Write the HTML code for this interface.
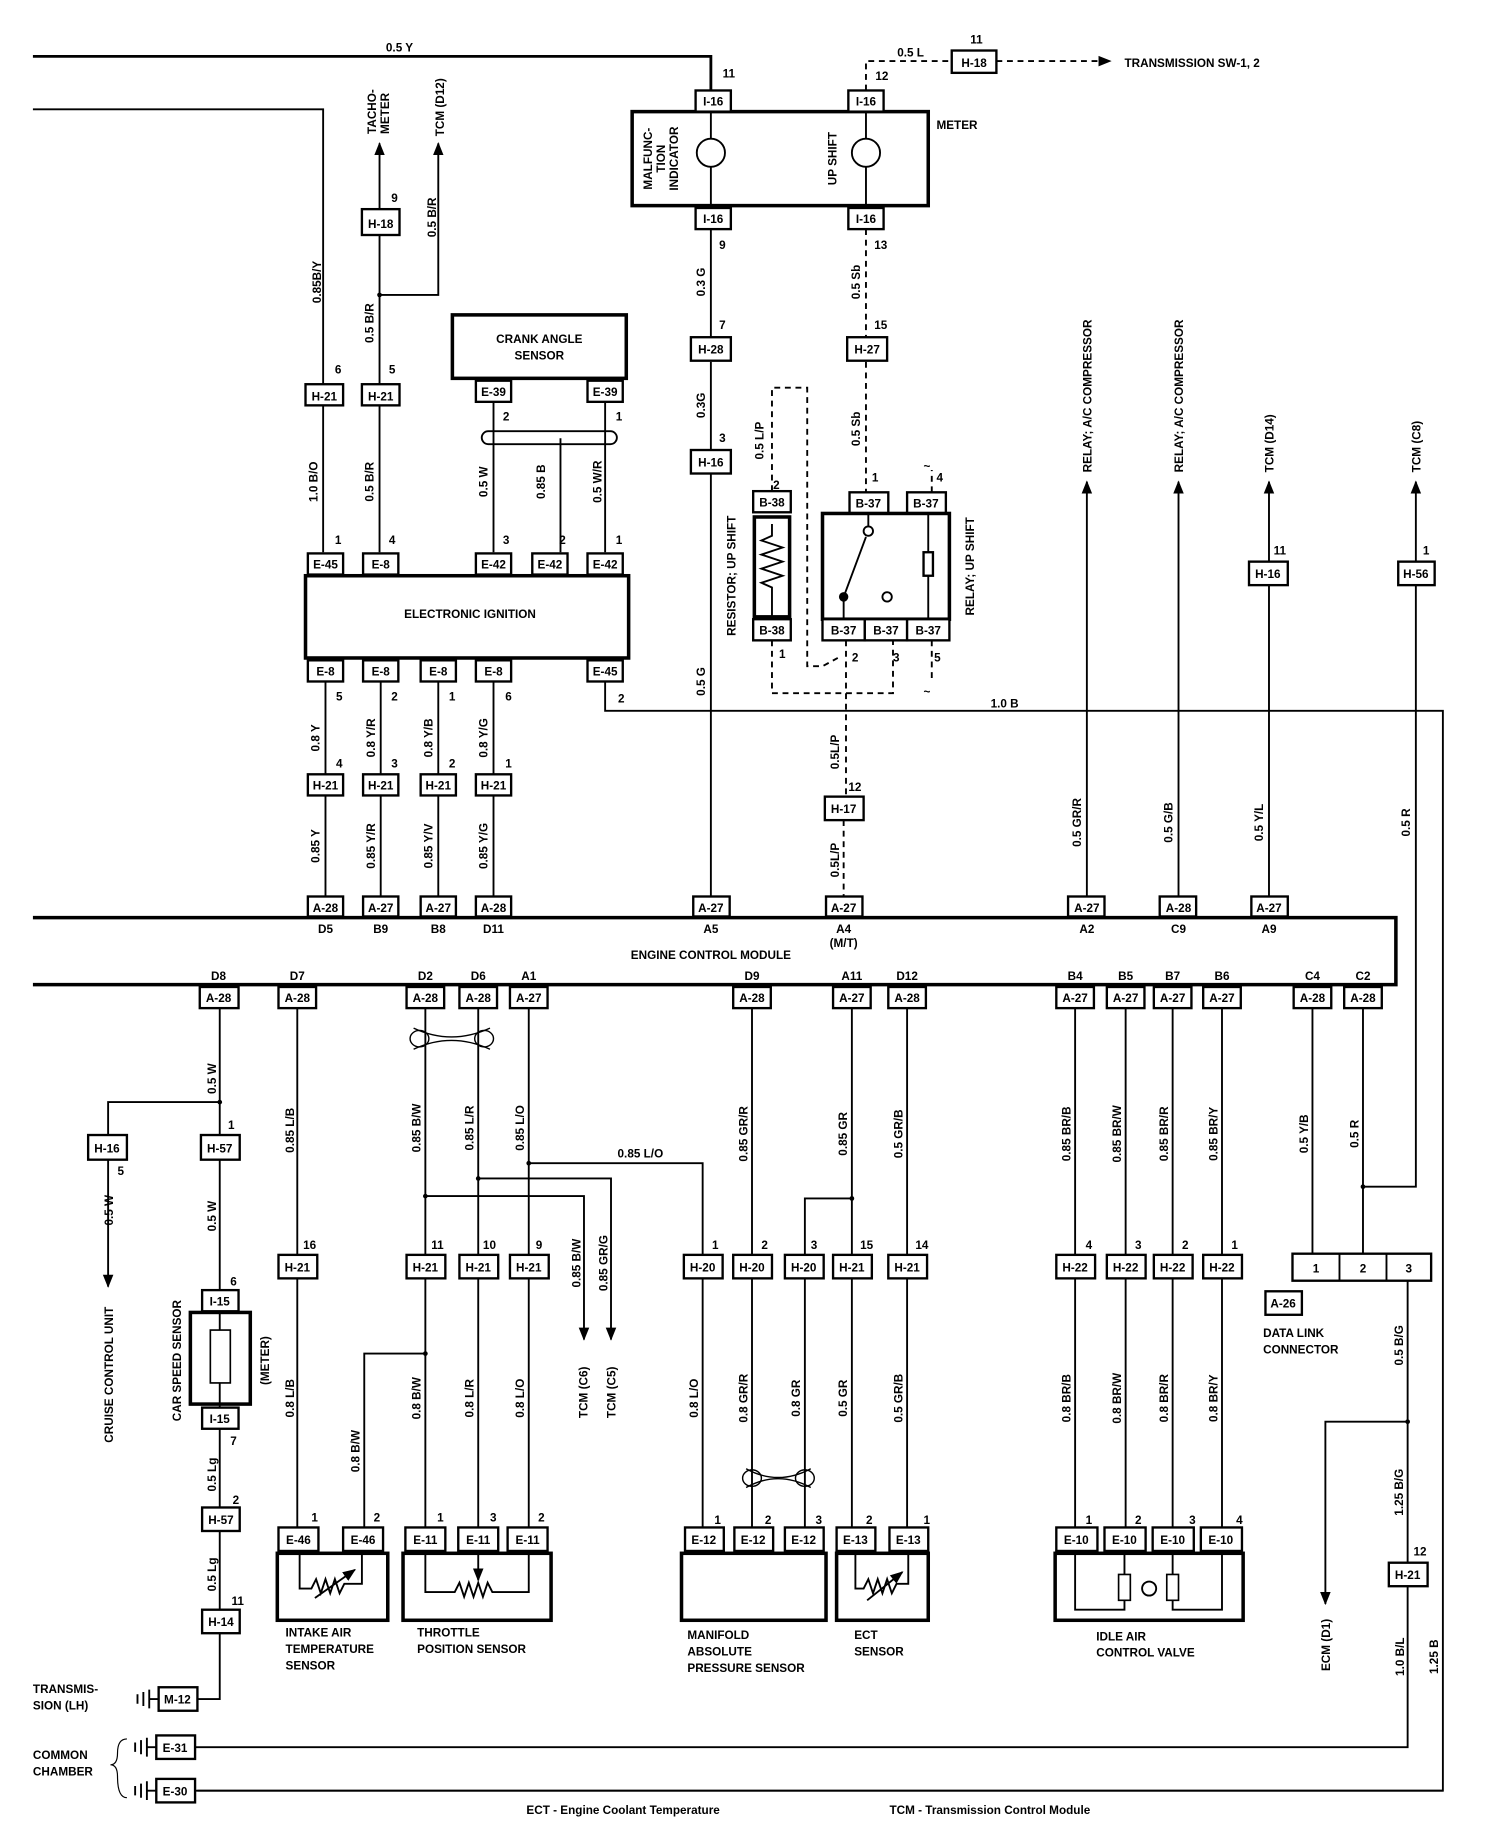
<!DOCTYPE html>
<html><head><meta charset="utf-8"><style>
html,body{margin:0;padding:0;background:#fff}
svg{display:block}
text{font-family:"Liberation Sans",sans-serif;font-weight:bold;font-size:10px;fill:#000}
.c{text-anchor:middle}
.e{text-anchor:end}
.w{stroke:#000;stroke-width:1.6;fill:none}
.t{stroke:#000;stroke-width:2.4;fill:none}
.d{stroke:#000;stroke-width:1.6;fill:none;stroke-dasharray:5,4}
.b{stroke:#000;stroke-width:2;fill:#fff}
.k{stroke:#000;stroke-width:3;fill:none}
</style></head><body>
<svg width="1504" height="1840" viewBox="0 0 1280 1566" xmlns="http://www.w3.org/2000/svg">
<defs><marker id="a" viewBox="0 0 10 10" refX="9" refY="5" markerWidth="7" markerHeight="7" orient="auto-start-reverse"><path d="M0,1 L10,5 L0,9 z" fill="#000"/></marker></defs>

<!-- top wires -->
<path class="t" d="M28,48 H605 V77"/><text x="340" y="44" class="c">0.5 Y</text>
<path class="w" d="M28,93 H275 V327"/>
<text transform="translate(273,240) rotate(-90)" class="c">0.85B/Y</text>
<text x="615" y="66">11</text>
<path class="d" d="M737,77 V52 H810"/><text x="775" y="48" class="c">0.5 L</text><text x="745" y="68">12</text>
<rect class="b" x="810" y="43" width="38" height="19"/><text x="829" y="57" class="c">H-18</text><text x="831" y="37" class="c">11</text>
<path class="d" d="M848,52 H945" marker-end="url(#a)"/><text x="957" y="57">TRANSMISSION SW-1, 2</text>

<!-- meter -->
<rect class="k" x="538" y="95" width="252" height="80"/>
<text x="797" y="110">METER</text>
<rect class="b" x="592" y="77" width="30" height="18"/><text x="607" y="90" class="c">I-16</text>
<rect class="b" x="722" y="77" width="30" height="18"/><text x="737" y="90" class="c">I-16</text>
<rect class="b" x="592" y="177" width="30" height="18"/><text x="607" y="190" class="c">I-16</text>
<rect class="b" x="722" y="177" width="30" height="18"/><text x="737" y="190" class="c">I-16</text>
<path class="w" d="M605,95 V118 M605,142 V177 M737,95 V118 M737,142 V177"/>
<circle cx="605" cy="130" r="12" class="w"/><circle cx="737" cy="130" r="12" class="w"/>
<text transform="translate(555,135) rotate(-90)" class="c">MALFUNC-</text>
<text transform="translate(566,135) rotate(-90)" class="c">TION</text>
<text transform="translate(577,135) rotate(-90)" class="c">INDICATOR</text>
<text transform="translate(712,135) rotate(-90)" class="c">UP SHIFT</text>

<!-- tacho -->
<path class="w" d="M323,327 V200 M323,178 V122" marker-end="url(#a)"/>
<path class="w" d="M323,251 H373 V122" marker-end="url(#a)"/>
<circle cx="323" cy="251" r="2"/>
<text transform="translate(320,114) rotate(-90)">TACHO-</text>
<text transform="translate(331,114) rotate(-90)">METER</text>
<text transform="translate(378,116) rotate(-90)">TCM (D12)</text>
<rect class="b" x="308" y="178" width="32" height="22"/><text x="324" y="194" class="c">H-18</text><text x="333" y="172">9</text>
<text transform="translate(371,185) rotate(-90)" class="c">0.5 B/R</text>
<text transform="translate(318,275) rotate(-90)" class="c">0.5 B/R</text>
<rect class="b" x="260" y="327" width="32" height="18"/><text x="276" y="341" class="c">H-21</text><text x="285" y="318">6</text>
<rect class="b" x="308" y="327" width="32" height="18"/><text x="324" y="341" class="c">H-21</text><text x="331" y="318">5</text>

<!-- crank angle -->
<rect class="k" x="385" y="268" width="148" height="54"/>
<text x="459" y="292" class="c">CRANK ANGLE</text><text x="459" y="306" class="c">SENSOR</text>
<rect class="b" x="405" y="324" width="30" height="18"/><text x="420" y="337" class="c">E-39</text>
<rect class="b" x="500" y="324" width="30" height="18"/><text x="515" y="337" class="c">E-39</text>
<text x="428" y="358">2</text><text x="524" y="358">1</text>
<rect x="410" y="367" width="115" height="11" rx="5.5" class="w"/>
<path class="w" d="M420,342 V470 M515,342 V470 M477,373 V470 M275,345 V470 M323,345 V470"/>
<text transform="translate(270,410) rotate(-90)" class="c">1.0 B/O</text>
<text transform="translate(318,410) rotate(-90)" class="c">0.5 B/R</text>
<text transform="translate(415,410) rotate(-90)" class="c">0.5 W</text>
<text transform="translate(464,410) rotate(-90)" class="c">0.85 B</text>
<text transform="translate(512,410) rotate(-90)" class="c">0.5 W/R</text>
<text x="285" y="463">1</text><text x="331" y="463">4</text><text x="428" y="463">3</text><text x="476" y="463">2</text><text x="524" y="463">1</text>

<!-- electronic ignition -->
<rect class="k" x="260" y="490" width="275" height="70"/>
<text x="400" y="526" class="c">ELECTRONIC IGNITION</text>
<g>
<rect class="b" x="262" y="471" width="30" height="18"/><text x="277" y="484" class="c">E-45</text>
<rect class="b" x="309" y="471" width="30" height="18"/><text x="324" y="484" class="c">E-8</text>
<rect class="b" x="405" y="471" width="30" height="18"/><text x="420" y="484" class="c">E-42</text>
<rect class="b" x="453" y="471" width="30" height="18"/><text x="468" y="484" class="c">E-42</text>
<rect class="b" x="500" y="471" width="30" height="18"/><text x="515" y="484" class="c">E-42</text>
<rect class="b" x="262" y="562" width="30" height="18"/><text x="277" y="575" class="c">E-8</text>
<rect class="b" x="309" y="562" width="30" height="18"/><text x="324" y="575" class="c">E-8</text>
<rect class="b" x="358" y="562" width="30" height="18"/><text x="373" y="575" class="c">E-8</text>
<rect class="b" x="405" y="562" width="30" height="18"/><text x="420" y="575" class="c">E-8</text>
<rect class="b" x="500" y="562" width="30" height="18"/><text x="515" y="575" class="c">E-45</text>
</g>
<text x="286" y="596">5</text><text x="333" y="596">2</text><text x="382" y="596">1</text><text x="430" y="596">6</text><text x="526" y="598">2</text>
<path class="w" d="M277,580 V659 M324,580 V659 M373,580 V659 M420,580 V659 M277,677 V763 M324,677 V763 M373,677 V763 M420,677 V763"/>
<text transform="translate(272,628) rotate(-90)" class="c">0.8 Y</text>
<text transform="translate(319,628) rotate(-90)" class="c">0.8 Y/R</text>
<text transform="translate(368,628) rotate(-90)" class="c">0.8 Y/B</text>
<text transform="translate(415,628) rotate(-90)" class="c">0.8 Y/G</text>
<text x="286" y="653">4</text><text x="333" y="653">3</text><text x="382" y="653">2</text><text x="430" y="653">1</text>
<rect class="b" x="262" y="659" width="30" height="18"/><text x="277" y="672" class="c">H-21</text>
<rect class="b" x="309" y="659" width="30" height="18"/><text x="324" y="672" class="c">H-21</text>
<rect class="b" x="358" y="659" width="30" height="18"/><text x="373" y="672" class="c">H-21</text>
<rect class="b" x="405" y="659" width="30" height="18"/><text x="420" y="672" class="c">H-21</text>
<text transform="translate(272,720) rotate(-90)" class="c">0.85 Y</text>
<text transform="translate(319,720) rotate(-90)" class="c">0.85 Y/R</text>
<text transform="translate(368,720) rotate(-90)" class="c">0.85 Y/V</text>
<text transform="translate(415,720) rotate(-90)" class="c">0.85 Y/G</text>
<path class="w" d="M515,580 V605 H1228 V1524 H168"/><text x="855" y="602" class="c">1.0 B</text>

<!-- center column -->
<path class="w" d="M605,195 V287 M605,308 V383 M605,402 V763"/>
<text x="612" y="212">9</text><text x="612" y="280">7</text><text x="612" y="376">3</text>
<text transform="translate(600,240) rotate(-90)" class="c">0.3 G</text>
<text transform="translate(600,345) rotate(-90)" class="c">0.3G</text>
<text transform="translate(600,580) rotate(-90)" class="c">0.5 G</text>
<rect class="b" x="588" y="287" width="34" height="20"/><text x="605" y="301" class="c">H-28</text>
<rect class="b" x="588" y="383" width="34" height="20"/><text x="605" y="397" class="c">H-16</text>
<path class="d" d="M737,195 V287 M737,308 V420"/>
<text x="744" y="212">13</text><text x="744" y="280">15</text><text x="742" y="410">1</text>
<text transform="translate(732,240) rotate(-90)" class="c">0.5 Sb</text>
<text transform="translate(732,365) rotate(-90)" class="c">0.5 Sb</text>
<rect class="b" x="721" y="287" width="34" height="20"/><text x="738" y="301" class="c">H-27</text>

<!-- resistor -->
<rect class="b" x="641" y="418" width="32" height="18"/><text x="657" y="431" class="c">B-38</text>
<rect class="k" x="642" y="440" width="30" height="85"/>
<path class="w" d="M657,446 V456 l-9,4 l18,6 l-18,6 l18,6 l-18,6 l18,6 l-18,6 l9,4 V525"/>
<rect class="b" x="641" y="527" width="32" height="18"/><text x="657" y="540" class="c">B-38</text>
<text x="658" y="416">2</text><text x="663" y="560">1</text>
<text transform="translate(626,490) rotate(-90)" class="c">RESISTOR; UP SHIFT</text>
<path class="d" d="M657,418 V330 H687 V567 H700 L713,560"/>
<text transform="translate(650,375) rotate(-90)" class="c">0.5 L/P</text>
<path class="d" d="M657,545 V590 H760 V545 M720,545 V678"/>

<!-- relay -->
<rect class="b" x="723" y="419" width="33" height="18"/><text x="739" y="432" class="c">B-37</text>
<rect class="b" x="772" y="419" width="33" height="18"/><text x="788" y="432" class="c">B-37</text>
<rect class="k" x="700" y="437" width="108" height="90"/>
<rect class="b" x="700" y="527" width="36" height="18"/><text x="718" y="540" class="c">B-37</text>
<rect class="b" x="736" y="527" width="36" height="18"/><text x="754" y="540" class="c">B-37</text>
<rect class="b" x="772" y="527" width="36" height="18"/><text x="790" y="540" class="c">B-37</text>
<path class="w" d="M739,437 V448 M718,527 V508 L737,457 M790,437 V527"/>
<circle cx="739" cy="452" r="4" fill="#fff" class="w"/><circle cx="718" cy="508" r="4" fill="#000"/><circle cx="755" cy="508" r="4" fill="#fff" class="w"/>
<rect x="786" y="470" width="8" height="20" class="b"/>
<path class="d" d="M793,419 V400 M793,545 V580"/>
<text x="797" y="410">4</text><text x="725" y="563">2</text><text x="760" y="563">3</text><text x="795" y="563">5</text>
<text x="786" y="400">~</text><text x="786" y="592">~</text>
<text transform="translate(829,482) rotate(-90)" class="c">RELAY; UP SHIFT</text>
<path class="d" d="M718,698 V763"/>
<rect class="b" x="702" y="678" width="33" height="20"/><text x="718" y="692" class="c">H-17</text>
<text x="722" y="673">12</text>
<text transform="translate(714,640) rotate(-90)" class="c">0.5L/P</text>
<text transform="translate(714,732) rotate(-90)" class="c">0.5L/P</text>

<!-- right column top -->
<path class="w" d="M925,763 V410" marker-end="url(#a)"/>
<path class="w" d="M1003,763 V410" marker-end="url(#a)"/>
<path class="w" d="M1080,763 V498 M1080,478 V410" marker-end="url(#a)"/>
<path class="w" d="M1205,478 V410" marker-end="url(#a)"/>
<path class="w" d="M1205,498 V1010 H1160"/>
<text transform="translate(929,402) rotate(-90)">RELAY; A/C COMPRESSOR</text>
<text transform="translate(1007,402) rotate(-90)">RELAY; A/C COMPRESSOR</text>
<text transform="translate(1084,402) rotate(-90)">TCM (D14)</text>
<text transform="translate(1209,402) rotate(-90)">TCM (C8)</text>
<rect class="b" x="1063" y="478" width="33" height="20"/><text x="1079" y="492" class="c">H-16</text><text x="1084" y="472">11</text>
<rect class="b" x="1190" y="478" width="31" height="20"/><text x="1205" y="492" class="c">H-56</text><text x="1211" y="472">1</text>
<text transform="translate(920,700) rotate(-90)" class="c">0.5 GR/R</text>
<text transform="translate(998,700) rotate(-90)" class="c">0.5 G/B</text>
<text transform="translate(1075,700) rotate(-90)" class="c">0.5 Y/L</text>
<text transform="translate(1200,700) rotate(-90)" class="c">0.5 R</text>

<!-- ECM -->
<path class="k" d="M28,781 H1188 V838 H28"/>
<text x="605" y="816" class="c">ENGINE CONTROL MODULE</text>
<g>
<rect class="b" x="262" y="763" width="30" height="17"/><text x="277" y="776" class="c">A-28</text>
<rect class="b" x="309" y="763" width="30" height="17"/><text x="324" y="776" class="c">A-27</text>
<rect class="b" x="358" y="763" width="30" height="17"/><text x="373" y="776" class="c">A-27</text>
<rect class="b" x="405" y="763" width="30" height="17"/><text x="420" y="776" class="c">A-28</text>
<rect class="b" x="590" y="763" width="31" height="17"/><text x="605" y="776" class="c">A-27</text>
<rect class="b" x="703" y="763" width="31" height="17"/><text x="718" y="776" class="c">A-27</text>
<rect class="b" x="909" y="763" width="31" height="17"/><text x="925" y="776" class="c">A-27</text>
<rect class="b" x="987" y="763" width="31" height="17"/><text x="1003" y="776" class="c">A-28</text>
<rect class="b" x="1065" y="763" width="31" height="17"/><text x="1080" y="776" class="c">A-27</text>
</g>
<text x="277" y="794" class="c">D5</text><text x="324" y="794" class="c">B9</text><text x="373" y="794" class="c">B8</text><text x="420" y="794" class="c">D11</text>
<text x="605" y="794" class="c">A5</text><text x="718" y="794" class="c">A4</text><text x="718" y="806" class="c">(M/T)</text>
<text x="925" y="794" class="c">A2</text><text x="1003" y="794" class="c">C9</text><text x="1080" y="794" class="c">A9</text>

<!-- bottom ECM connectors -->
<g>
<rect class="b" x="170" y="840" width="33" height="18"/><text x="186" y="853" class="c">A-28</text>
<rect class="b" x="237" y="840" width="32" height="18"/><text x="253" y="853" class="c">A-28</text>
<rect class="b" x="346" y="840" width="32" height="18"/><text x="362" y="853" class="c">A-28</text>
<rect class="b" x="391" y="840" width="32" height="18"/><text x="407" y="853" class="c">A-28</text>
<rect class="b" x="434" y="840" width="32" height="18"/><text x="450" y="853" class="c">A-27</text>
<rect class="b" x="624" y="840" width="32" height="18"/><text x="640" y="853" class="c">A-28</text>
<rect class="b" x="709" y="840" width="32" height="18"/><text x="725" y="853" class="c">A-27</text>
<rect class="b" x="756" y="840" width="32" height="18"/><text x="772" y="853" class="c">A-28</text>
<rect class="b" x="899" y="840" width="32" height="18"/><text x="915" y="853" class="c">A-27</text>
<rect class="b" x="942" y="840" width="32" height="18"/><text x="958" y="853" class="c">A-27</text>
<rect class="b" x="982" y="840" width="32" height="18"/><text x="998" y="853" class="c">A-27</text>
<rect class="b" x="1024" y="840" width="32" height="18"/><text x="1040" y="853" class="c">A-27</text>
<rect class="b" x="1101" y="840" width="32" height="18"/><text x="1117" y="853" class="c">A-28</text>
<rect class="b" x="1144" y="840" width="32" height="18"/><text x="1160" y="853" class="c">A-28</text>
</g>
<text x="186" y="834" class="c">D8</text><text x="253" y="834" class="c">D7</text><text x="362" y="834" class="c">D2</text><text x="407" y="834" class="c">D6</text><text x="450" y="834" class="c">A1</text>
<text x="640" y="834" class="c">D9</text><text x="725" y="834" class="c">A11</text><text x="772" y="834" class="c">D12</text>
<text x="915" y="834" class="c">B4</text><text x="958" y="834" class="c">B5</text><text x="998" y="834" class="c">B7</text><text x="1040" y="834" class="c">B6</text>
<text x="1117" y="834" class="c">C4</text><text x="1160" y="834" class="c">C2</text>

<!-- car speed / cruise -->
<path class="w" d="M187,858 V966 M187,938 H92 V966"/>
<path class="w" d="M92,986 V1095" marker-end="url(#a)"/>
<circle cx="187" cy="938" r="2"/>
<text transform="translate(184,918) rotate(-90)" class="c">0.5 W</text><text x="194" y="961">1</text>
<rect class="b" x="75" y="966" width="33" height="21"/><text x="91" y="981" class="c">H-16</text><text x="100" y="1000">5</text>
<rect class="b" x="171" y="966" width="33" height="21"/><text x="187" y="981" class="c">H-57</text>
<text transform="translate(96,1030) rotate(-90)" class="c">0.5 W</text>
<text transform="translate(96,1170) rotate(-90)" class="c">CRUISE CONTROL UNIT</text>
<path class="w" d="M187,987 V1098"/><text transform="translate(184,1035) rotate(-90)" class="c">0.5 W</text>
<text x="196" y="1094">6</text>
<rect class="b" x="172" y="1098" width="31" height="18"/><text x="187" y="1111" class="c">I-15</text>
<rect class="k" x="162" y="1117" width="51" height="78"/>
<rect x="179" y="1132" width="17" height="45" class="b" style="stroke-width:1.4"/>
<path class="w" d="M187,1117 V1132 M187,1177 V1198"/>
<rect class="b" x="172" y="1198" width="31" height="18"/><text x="187" y="1211" class="c">I-15</text>
<text transform="translate(154,1158) rotate(-90)" class="c">CAR SPEED SENSOR</text>
<text transform="translate(229,1158) rotate(-90)" class="c">(METER)</text>
<text x="196" y="1230">7</text>
<path class="w" d="M187,1216 V1283 M187,1303 V1370 M187,1390 V1446 H167"/>
<text transform="translate(184,1255) rotate(-90)" class="c">0.5 Lg</text><text x="198" y="1280">2</text>
<rect class="b" x="172" y="1283" width="32" height="20"/><text x="188" y="1297" class="c">H-57</text>
<text transform="translate(184,1340) rotate(-90)" class="c">0.5 Lg</text><text x="197" y="1366">11</text>
<rect class="b" x="172" y="1370" width="32" height="20"/><text x="188" y="1384" class="c">H-14</text>
<rect class="b" x="135" y="1436" width="33" height="20"/><text x="151" y="1450" class="c">M-12</text>
<path class="w" d="M135,1446 H127 M127,1438 V1454 M122,1440 V1452 M117,1442 V1450"/>
<text x="28" y="1441">TRANSMIS-</text><text x="28" y="1455">SION (LH)</text>
<rect class="b" x="133" y="1477" width="33" height="20"/><text x="149" y="1491" class="c">E-31</text>
<rect class="b" x="133" y="1514" width="33" height="20"/><text x="149" y="1528" class="c">E-30</text>
<path class="w" d="M133,1487 H125 M125,1479 V1495 M120,1481 V1493 M115,1483 V1491 M133,1524 H125 M125,1516 V1532 M120,1518 V1530 M115,1520 V1528"/>
<path class="w" d="M108,1480 Q100,1480 100,1492 Q100,1502 94,1502 Q100,1502 100,1512 Q100,1530 108,1530" style="stroke-width:1"/>
<text x="28" y="1497">COMMON</text><text x="28" y="1511">CHAMBER</text>
<path class="w" d="M166,1487 H1198 V1350 M166,1524 H1228"/>
<text transform="translate(1195,1410) rotate(-90)" class="c">1.0 B/L</text>
<text transform="translate(1224,1410) rotate(-90)" class="c">1.25 B</text>

<!-- IAT -->
<path class="w" d="M253,858 V1068 M253,1088 V1300"/>
<text transform="translate(250,962) rotate(-90)" class="c">0.85 L/B</text>
<text transform="translate(250,1190) rotate(-90)" class="c">0.8 L/B</text>
<text x="258" y="1063">16</text>
<rect class="b" x="237" y="1068" width="33" height="20"/><text x="253" y="1082" class="c">H-21</text>
<path class="w" d="M362,858 V1068 M407,858 V1068 M450,858 V1068 M362,1088 V1300 M407,1088 V1300 M450,1088 V1300"/>
<path class="w" d="M362,1152 H310 V1300"/><circle cx="362" cy="1152" r="2"/>
<path class="w" d="M352,875 Q384,890 417,875 M352,893 Q384,878 417,893" style="stroke-width:1.2"/>
<ellipse cx="357" cy="884" rx="8" ry="7" class="w" style="stroke-width:1.2"/><ellipse cx="412" cy="884" rx="8" ry="7" class="w" style="stroke-width:1.2"/>
<text transform="translate(358,960) rotate(-90)" class="c">0.85 B/W</text>
<text transform="translate(403,960) rotate(-90)" class="c">0.85 L/R</text>
<text transform="translate(446,960) rotate(-90)" class="c">0.85 L/O</text>
<path class="w" d="M362,1018 H497 V1140" marker-end="url(#a)"/>
<path class="w" d="M407,1003 H520 V1140" marker-end="url(#a)"/>
<path class="w" d="M450,990 H598 V1068"/>
<circle cx="362" cy="1018" r="2"/><circle cx="407" cy="1003" r="2"/><circle cx="450" cy="990" r="2"/>
<text x="545" y="985" class="c">0.85 L/O</text>
<text transform="translate(494,1075) rotate(-90)" class="c">0.85 B/W</text>
<text transform="translate(517,1075) rotate(-90)" class="c">0.85 GR/G</text>
<text transform="translate(500,1185) rotate(-90)" class="c">TCM (C6)</text>
<text transform="translate(524,1185) rotate(-90)" class="c">TCM (C5)</text>
<text x="367" y="1063">11</text><text x="411" y="1063">10</text><text x="456" y="1063">9</text>
<rect class="b" x="346" y="1068" width="33" height="20"/><text x="362" y="1082" class="c">H-21</text>
<rect class="b" x="391" y="1068" width="33" height="20"/><text x="407" y="1082" class="c">H-21</text>
<rect class="b" x="434" y="1068" width="33" height="20"/><text x="450" y="1082" class="c">H-21</text>
<text transform="translate(358,1190) rotate(-90)" class="c">0.8 B/W</text>
<text transform="translate(403,1190) rotate(-90)" class="c">0.8 L/R</text>
<text transform="translate(446,1190) rotate(-90)" class="c">0.8 L/O</text>
<text transform="translate(306,1235) rotate(-90)" class="c">0.8 B/W</text>
<text x="265" y="1295">1</text><text x="318" y="1295">2</text><text x="372" y="1295">1</text><text x="417" y="1295">3</text><text x="458" y="1295">2</text>
<rect class="b" x="237" y="1300" width="34" height="20"/><text x="254" y="1314" class="c">E-46</text>
<rect class="b" x="292" y="1300" width="34" height="20"/><text x="309" y="1314" class="c">E-46</text>
<rect class="k" x="236" y="1322" width="94" height="57"/>
<path class="w" d="M255,1322 V1352 H265 l4,-8 l4,12 l4,-12 l4,12 l4,-12 l4,12 l4,-8 H308 V1322 M268,1360 L302,1336" marker-end="url(#a)"/>
<rect class="b" x="345" y="1300" width="34" height="20"/><text x="362" y="1314" class="c">E-11</text>
<rect class="b" x="390" y="1300" width="34" height="20"/><text x="407" y="1314" class="c">E-11</text>
<rect class="b" x="432" y="1300" width="34" height="20"/><text x="449" y="1314" class="c">E-11</text>
<rect class="k" x="343" y="1322" width="126" height="57"/>
<path class="w" d="M362,1322 V1355 H387 l4,-8 l4,12 l4,-12 l4,12 l4,-12 l4,12 l4,-12 l4,8 H450 V1322"/>
<path class="w" d="M407,1322 V1345" marker-end="url(#a)"/>
<text x="243" y="1393">INTAKE AIR</text><text x="243" y="1407">TEMPERATURE</text><text x="243" y="1421">SENSOR</text>
<text x="355" y="1393">THROTTLE</text><text x="355" y="1407">POSITION SENSOR</text>

<!-- MAP / ECT -->
<path class="w" d="M598,1088 V1300 M640,858 V1068 M640,1088 V1300 M685,1088 V1300 M725,858 V1068 M725,1088 V1300 M772,858 V1068 M772,1088 V1300 M725,1020 H685 V1068"/>
<circle cx="725" cy="1020" r="2"/>
<path class="w" d="M635,1250 Q662,1265 690,1250 M635,1266 Q662,1251 690,1266" style="stroke-width:1.2"/>
<ellipse cx="640" cy="1258" rx="8" ry="7" class="w" style="stroke-width:1.2"/><ellipse cx="685" cy="1258" rx="8" ry="7" class="w" style="stroke-width:1.2"/>
<text transform="translate(636,965) rotate(-90)" class="c">0.85 GR/R</text>
<text transform="translate(721,965) rotate(-90)" class="c">0.85 GR</text>
<text transform="translate(768,965) rotate(-90)" class="c">0.5 GR/B</text>
<text x="606" y="1063">1</text><text x="648" y="1063">2</text><text x="690" y="1063">3</text><text x="732" y="1063">15</text><text x="779" y="1063">14</text>
<rect class="b" x="582" y="1068" width="33" height="20"/><text x="598" y="1082" class="c">H-20</text>
<rect class="b" x="624" y="1068" width="33" height="20"/><text x="640" y="1082" class="c">H-20</text>
<rect class="b" x="668" y="1068" width="33" height="20"/><text x="684" y="1082" class="c">H-20</text>
<rect class="b" x="709" y="1068" width="33" height="20"/><text x="725" y="1082" class="c">H-21</text>
<rect class="b" x="756" y="1068" width="33" height="20"/><text x="772" y="1082" class="c">H-21</text>
<text transform="translate(594,1190) rotate(-90)" class="c">0.8 L/O</text>
<text transform="translate(636,1190) rotate(-90)" class="c">0.8 GR/R</text>
<text transform="translate(681,1190) rotate(-90)" class="c">0.8 GR</text>
<text transform="translate(721,1190) rotate(-90)" class="c">0.5 GR</text>
<text transform="translate(768,1190) rotate(-90)" class="c">0.5 GR/B</text>
<text x="608" y="1297">1</text><text x="651" y="1297">2</text><text x="694" y="1297">3</text><text x="737" y="1297">2</text><text x="786" y="1297">1</text>
<rect class="b" x="583" y="1300" width="33" height="20"/><text x="599" y="1314" class="c">E-12</text>
<rect class="b" x="625" y="1300" width="33" height="20"/><text x="641" y="1314" class="c">E-12</text>
<rect class="b" x="668" y="1300" width="33" height="20"/><text x="684" y="1314" class="c">E-12</text>
<rect class="b" x="712" y="1300" width="33" height="20"/><text x="728" y="1314" class="c">E-13</text>
<rect class="b" x="757" y="1300" width="33" height="20"/><text x="773" y="1314" class="c">E-13</text>
<rect class="k" x="580" y="1322" width="123" height="57"/>
<rect class="k" x="712" y="1322" width="78" height="57"/>
<path class="w" d="M728,1322 V1352 H735 l4,-8 l4,12 l4,-12 l4,12 l4,-12 l4,12 l4,-8 H773 V1322 M738,1362 L768,1338" marker-end="url(#a)"/>
<text x="585" y="1395">MANIFOLD</text><text x="585" y="1409">ABSOLUTE</text><text x="585" y="1423">PRESSURE SENSOR</text>
<text x="727" y="1395">ECT</text><text x="727" y="1409">SENSOR</text>

<!-- IAC -->
<path class="w" d="M915,858 V1068 M958,858 V1068 M998,858 V1068 M1040,858 V1068 M915,1088 V1300 M958,1088 V1300 M998,1088 V1300 M1040,1088 V1300"/>
<text transform="translate(911,965) rotate(-90)" class="c">0.85 BR/B</text>
<text transform="translate(954,965) rotate(-90)" class="c">0.85 BR/W</text>
<text transform="translate(994,965) rotate(-90)" class="c">0.85 BR/R</text>
<text transform="translate(1036,965) rotate(-90)" class="c">0.85 BR/Y</text>
<text x="924" y="1063">4</text><text x="966" y="1063">3</text><text x="1006" y="1063">2</text><text x="1048" y="1063">1</text>
<rect class="b" x="899" y="1068" width="33" height="20"/><text x="915" y="1082" class="c">H-22</text>
<rect class="b" x="942" y="1068" width="33" height="20"/><text x="958" y="1082" class="c">H-22</text>
<rect class="b" x="982" y="1068" width="33" height="20"/><text x="998" y="1082" class="c">H-22</text>
<rect class="b" x="1024" y="1068" width="33" height="20"/><text x="1040" y="1082" class="c">H-22</text>
<text transform="translate(911,1190) rotate(-90)" class="c">0.8 BR/B</text>
<text transform="translate(954,1190) rotate(-90)" class="c">0.8 BR/W</text>
<text transform="translate(994,1190) rotate(-90)" class="c">0.8 BR/R</text>
<text transform="translate(1036,1190) rotate(-90)" class="c">0.8 BR/Y</text>
<text x="924" y="1297">1</text><text x="966" y="1297">2</text><text x="1012" y="1297">3</text><text x="1052" y="1297">4</text>
<rect class="b" x="899" y="1300" width="35" height="20"/><text x="916" y="1314" class="c">E-10</text>
<rect class="b" x="940" y="1300" width="35" height="20"/><text x="957" y="1314" class="c">E-10</text>
<rect class="b" x="981" y="1300" width="35" height="20"/><text x="998" y="1314" class="c">E-10</text>
<rect class="b" x="1022" y="1300" width="35" height="20"/><text x="1039" y="1314" class="c">E-10</text>
<rect class="k" x="898" y="1322" width="160" height="57"/>
<path class="w" d="M915,1322 V1370 H957 V1322 M998,1322 V1370 H1040 V1322"/>
<rect x="952" y="1340" width="10" height="22" class="b" style="stroke-width:1.4"/>
<rect x="993" y="1340" width="10" height="22" class="b" style="stroke-width:1.4"/>
<circle cx="978" cy="1352" r="6" class="w"/>
<text x="933" y="1396">IDLE AIR</text><text x="933" y="1410">CONTROL VALVE</text>

<!-- data link -->
<path class="w" d="M1117,858 V1067 M1160,858 V1067"/><circle cx="1160" cy="1010" r="2"/>
<text transform="translate(1113,965) rotate(-90)" class="c">0.5 Y/B</text>
<text transform="translate(1156,965) rotate(-90)" class="c">0.5 R</text>
<rect class="b" x="1100" y="1067" width="118" height="23"/>
<path class="w" d="M1140,1067 V1090 M1180,1067 V1090"/>
<text x="1120" y="1083" class="c">1</text><text x="1160" y="1083" class="c">2</text><text x="1199" y="1083" class="c">3</text>
<rect class="b" x="1077" y="1099" width="31" height="20"/><text x="1092" y="1113" class="c">A-26</text>
<text x="1075" y="1138">DATA LINK</text><text x="1075" y="1152">CONNECTOR</text>
<path class="w" d="M1198,1090 V1330"/><circle cx="1198" cy="1210" r="2"/>
<path class="w" d="M1198,1210 H1128 V1365" marker-end="url(#a)"/>
<text transform="translate(1194,1145) rotate(-90)" class="c">0.5 B/G</text>
<text transform="translate(1194,1270) rotate(-90)" class="c">1.25 B/G</text>
<text transform="translate(1132,1400) rotate(-90)" class="c">ECM (D1)</text>
<text x="1203" y="1324">12</text>
<rect class="b" x="1182" y="1330" width="33" height="20"/><text x="1198" y="1344" class="c">H-21</text>

<text x="448" y="1544">ECT - Engine Coolant Temperature</text>
<text x="757" y="1544">TCM - Transmission Control Module</text>
</svg>
</body></html>
